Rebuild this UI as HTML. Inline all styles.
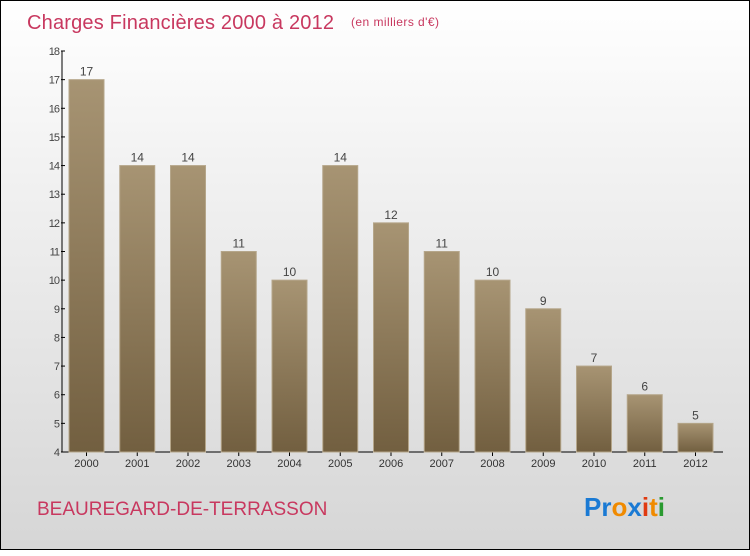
<!DOCTYPE html>
<html><head><meta charset="utf-8"><style>
body{margin:0;width:750px;height:550px;overflow:hidden;font-family:"Liberation Sans",sans-serif}
#c{position:absolute;left:0;top:0;width:748px;height:548px;border:1px solid #000;background:linear-gradient(#ffffff,#f2f2f2 30%,#d6d6d6)}
</style></head><body>
<div id="c">
<svg width="750" height="550">
<defs><linearGradient id="bg" x1="0" y1="0" x2="0" y2="1"><stop offset="0" stop-color="#a79473"/><stop offset="1" stop-color="#725f40"/></linearGradient></defs>
<text x="26" y="28" font-size="20" fill="#c8385f" textLength="307">Charges Financières 2000 à 2012</text>
<text x="350" y="25" font-size="12" fill="#c8385f" textLength="88">(en milliers d'€)</text>
<g id="axes"></g><g id="bars"></g>
<text x="36" y="514" font-size="19" fill="#c8385f">BEAUREGARD-DE-TERRASSON</text>
<text x="583" y="515" font-size="26" font-weight="bold"><tspan fill="#1a7ad4">Pr</tspan><tspan fill="#f08a00">o</tspan><tspan fill="#1a7ad4">x</tspan><tspan fill="#e03a10">i</tspan><tspan fill="#f08a00">t</tspan><tspan fill="#2a9a30">i</tspan></text>
</svg></div>
<script>
const categories=["2000","2001","2002","2003","2004","2005","2006","2007","2008","2009","2010","2011","2012"];
const values=[17,14,14,11,10,14,12,11,10,9,7,6,5];
const yTicks=[4,5,6,7,8,9,10,11,12,13,14,15,16,17,18];
const NS="http://www.w3.org/2000/svg";
const x0=61,x1=722,yTop=50,yBot=451,ymin=4,ymax=18;
const step=50.75;
const y=v=>yBot-(v-ymin)/(ymax-ymin)*(yBot-yTop);
const xc=i=>85.5+step*i;
function mk(t,a,p){const e=document.createElementNS(NS,t);for(const k in a)e.setAttribute(k,a[k]);p.appendChild(e);return e;}
const ax=document.getElementById('axes'),bs=document.getElementById('bars');
let l=mk('line',{x1:x0,y1:yTop,x2:x0,y2:yBot,stroke:'#000'},ax);


l=mk('line',{x1:x0,y1:yBot,x2:x1,y2:yBot,stroke:'#000'},ax);


yTicks.forEach(v=>{
 mk('line',{x1:x0-1,y1:y(v),x2:x0+3,y2:y(v),stroke:'#000'},ax);
 const t=mk('text',{x:x0-3,y:y(v)+4,'font-size':11,fill:'#444','text-anchor':'end','letter-spacing':'-1'},ax);
 t.textContent=v;
 
 
});
categories.forEach((c,i)=>{
 const cx=xc(i),w=35;
 const r=mk('rect',{x:cx-w/2,y:y(values[i]),width:w,height:yBot-y(values[i]),fill:'url(#bg)',stroke:'#b5a68a','stroke-width':1},bs);
 
 
 const t=mk('text',{x:cx,y:y(values[i])-4,'font-size':12,fill:'#444','text-anchor':'middle'},bs);
 t.textContent=values[i];
 
 
 mk('line',{x1:cx,y1:yBot,x2:cx,y2:yBot+4,stroke:'#000'},ax);
 const xl=mk('text',{x:cx,y:yBot+15,'font-size':11,fill:'#333','text-anchor':'middle'},ax);
 xl.textContent=c;
 
 
});
</script>
</body></html>
